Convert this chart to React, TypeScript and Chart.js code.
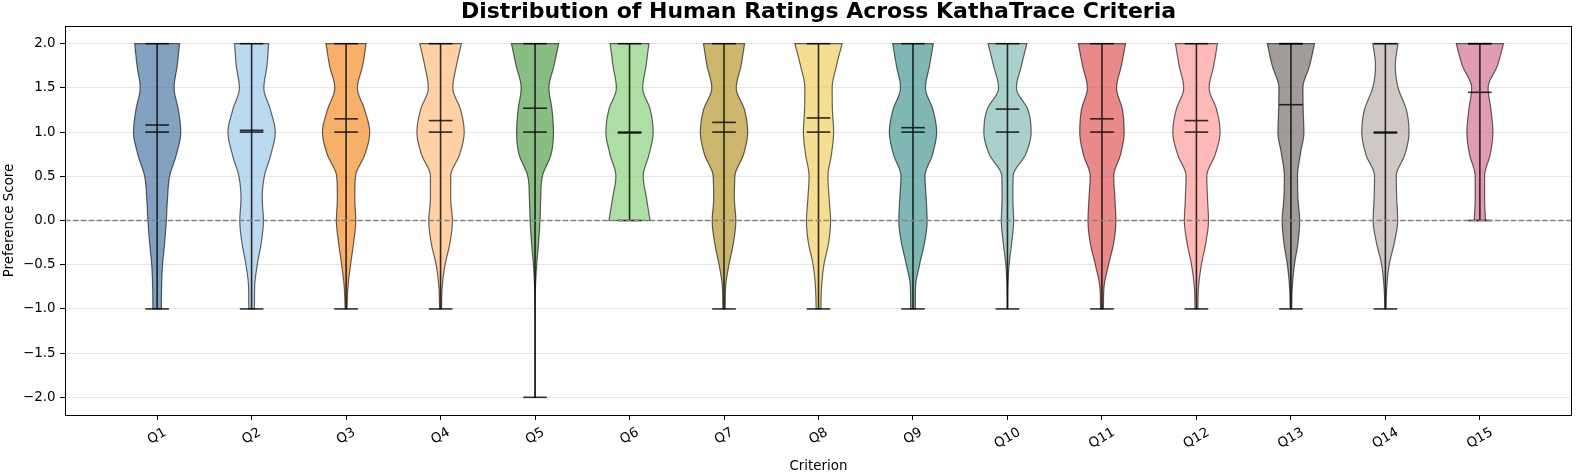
import { useEffect, useRef } from 'react';
import { Chart, registerables } from 'chart.js';

Chart.register(...registerables);

// Criteria shown along the x axis (positions 1..15)
const criteria = ['Q1', 'Q2', 'Q3', 'Q4', 'Q5', 'Q6', 'Q7', 'Q8', 'Q9', 'Q10', 'Q11', 'Q12', 'Q13', 'Q14', 'Q15'];

// Score levels at which each violin's relative density is listed (top to bottom)
const levels = [2, 1.75, 1.5, 1.25, 1, 0.75, 0.5, 0.25, 0, -0.25, -0.5, -0.75, -1, -1.25, -1.5, -1.75, -2];

// Relative density (1 = widest point of that violin), one row per criterion, following `levels`
const densityQ1 = [0.95, 0.85, 0.72, 0.9, 1.0, 0.82, 0.53, 0.44, 0.39, 0.32, 0.23, 0.19, 0.18];
const densityQ2 = [0.72, 0.65, 0.52, 0.8, 1.0, 0.82, 0.54, 0.45, 0.5, 0.41, 0.24, 0.13, 0.12];
const densityQ3 = [0.85, 0.7, 0.48, 0.79, 1.0, 0.8, 0.4, 0.37, 0.41, 0.32, 0.19, 0.08, 0.04];
const densityQ4 = [0.88, 0.67, 0.52, 0.85, 1.0, 0.81, 0.43, 0.43, 0.5, 0.4, 0.19, 0.07, 0.04];
const densityQ5 = [1.0, 0.8, 0.59, 0.72, 0.78, 0.68, 0.31, 0.24, 0.21, 0.15, 0.07, 0.02, 0.006, 0.004, 0.004, 0.004, 0.004];
const densityQ6 = [0.82, 0.7, 0.56, 0.88, 1.0, 0.83, 0.58, 0.72, 0.87];
const densityQ7 = [0.87, 0.72, 0.52, 0.87, 1.0, 0.83, 0.46, 0.44, 0.5, 0.4, 0.21, 0.07, 0.05];
const densityQ8 = [1.0, 0.76, 0.58, 0.59, 0.64, 0.55, 0.4, 0.45, 0.51, 0.43, 0.23, 0.13, 0.1];
const densityQ9 = [0.86, 0.7, 0.53, 0.85, 1.0, 0.83, 0.51, 0.56, 0.6, 0.49, 0.28, 0.11, 0.1];
const densityQ10 = [0.82, 0.59, 0.38, 0.87, 1.0, 0.77, 0.24, 0.23, 0.26, 0.18, 0.07, 0.02, 0.01];
const densityQ11 = [1.0, 0.82, 0.62, 0.87, 0.94, 0.79, 0.5, 0.55, 0.59, 0.5, 0.28, 0.09, 0.06];
const densityQ12 = [0.89, 0.73, 0.54, 0.86, 1.0, 0.8, 0.44, 0.47, 0.51, 0.4, 0.21, 0.09, 0.06];
const densityQ13 = [1.0, 0.79, 0.51, 0.52, 0.55, 0.4, 0.28, 0.3, 0.37, 0.3, 0.15, 0.06, 0.03];
const densityQ14 = [0.53, 0.42, 0.54, 0.89, 1.0, 0.83, 0.46, 0.48, 0.52, 0.38, 0.16, 0.06, 0.02];
const densityQ15 = [1.0, 0.74, 0.35, 0.47, 0.55, 0.44, 0.2, 0.2, 0.24];

const densities = [
  densityQ1, densityQ2, densityQ3, densityQ4, densityQ5, densityQ6, densityQ7, densityQ8,
  densityQ9, densityQ10, densityQ11, densityQ12, densityQ13, densityQ14, densityQ15,
];

// Summary statistics per criterion
const means = [1.08, 1.02, 1.15, 1.13, 1.27, 0.99, 1.11, 1.16, 1.05, 1.26, 1.15, 1.13, 1.31, 0.99, 1.45];
const medians = [1, 1, 1, 1, 1, 1, 1, 1, 1, 1, 1, 1, 2, 1, 2];
const minima = [-1, -1, -1, -1, -2, 0, -1, -1, -1, -1, -1, -1, -1, -1, 0];
const maxima = [2, 2, 2, 2, 2, 2, 2, 2, 2, 2, 2, 2, 2, 2, 2];

// y axis ticks
const yTicks = [-2, -1.5, -1, -0.5, 0, 0.5, 1, 1.5, 2];

// Tableau 20 palette, one colour per criterion
const palette = [
  '#4E79A7', '#A0CBE8', '#F28E2B', '#FFBE7D', '#59A14F', '#8CD17D', '#B6992D', '#F1CE63',
  '#499894', '#86BCB6', '#E15759', '#FF9D9A', '#79706E', '#BAB0AC', '#D37295',
];

const TITLE = 'Distribution of Human Ratings Across KathaTrace Criteria';
const FONT = "'DejaVu Sans', 'Liberation Sans', sans-serif";
const BODY_ALPHA = 0.7;
const VIOLIN_WIDTH = 0.5; // in x units
const LINE_COLOR = 'rgba(0,0,0,0.8)';

function rgba(hex: string, a: number) {
  const n = parseInt(hex.slice(1), 16);
  return `rgba(${(n >> 16) & 255},${(n >> 8) & 255},${n & 255},${a})`;
}

// Monotone cubic (Fritsch-Carlson) interpolation through the listed densities
function monotone(xs: number[], ys: number[]) {
  const n = xs.length;
  const d: number[] = [];
  const m: number[] = new Array(n).fill(0);
  for (let i = 0; i < n - 1; i++) d.push((ys[i + 1] - ys[i]) / (xs[i + 1] - xs[i]));
  m[0] = d[0];
  m[n - 1] = d[n - 2];
  for (let i = 1; i < n - 1; i++) m[i] = d[i - 1] * d[i] <= 0 ? 0 : (d[i - 1] + d[i]) / 2;
  for (let i = 0; i < n - 1; i++) {
    if (d[i] === 0) {
      m[i] = 0;
      m[i + 1] = 0;
      continue;
    }
    const a = m[i] / d[i];
    const b = m[i + 1] / d[i];
    const s = a * a + b * b;
    if (s > 9) {
      const t = 3 / Math.sqrt(s);
      m[i] = t * a * d[i];
      m[i + 1] = t * b * d[i];
    }
  }
  return (x: number) => {
    let i = 0;
    while (i < n - 2 && x > xs[i + 1]) i++;
    const h = xs[i + 1] - xs[i];
    const t = Math.min(1, Math.max(0, (x - xs[i]) / h));
    const t2 = t * t;
    const t3 = t2 * t;
    return (
      (2 * t3 - 3 * t2 + 1) * ys[i] +
      (t3 - 2 * t2 + t) * h * m[i] +
      (-2 * t3 + 3 * t2) * ys[i + 1] +
      (t3 - t2) * h * m[i + 1]
    );
  };
}

const violinPlugin = {
  id: 'violinBodies',
  beforeDatasetsDraw(chart: any) {
    const { ctx, chartArea, scales } = chart;
    const xs = scales.x;
    const ys = scales.y;
    ctx.save();
    ctx.beginPath();
    ctx.rect(chartArea.left, chartArea.top, chartArea.right - chartArea.left, chartArea.bottom - chartArea.top);
    ctx.clip();

    criteria.forEach((_, i) => {
      const pos = i + 1;
      const row = densities[i];
      const lv: number[] = [];
      const dv: number[] = [];
      for (let k = row.length - 1; k >= 0; k--) {
        lv.push(levels[k]);
        dv.push(row[k]);
      }
      const f = monotone(lv, dv);
      const lo = minima[i];
      const hi = maxima[i];
      const steps = Math.ceil((hi - lo) / 0.005);
      const right: [number, number][] = [];
      const left: [number, number][] = [];
      for (let s = 0; s <= steps; s++) {
        const v = hi - ((hi - lo) * s) / steps;
        const w = Math.max(0, f(v)) * (VIOLIN_WIDTH / 2);
        const py = ys.getPixelForValue(v);
        right.push([xs.getPixelForValue(pos + w), py]);
        left.push([xs.getPixelForValue(pos - w), py]);
      }
      ctx.beginPath();
      ctx.moveTo(left[0][0], left[0][1]);
      right.forEach(([px, py]) => ctx.lineTo(px, py));
      for (let s = left.length - 1; s >= 0; s--) ctx.lineTo(left[s][0], left[s][1]);
      ctx.closePath();
      ctx.fillStyle = rgba(palette[i], BODY_ALPHA);
      ctx.fill();
      ctx.lineWidth = 1.2;
      ctx.strokeStyle = 'rgba(0,0,0,0.6)';
      ctx.stroke();
    });

    // vertical bars from minimum to maximum
    ctx.strokeStyle = LINE_COLOR;
    ctx.lineWidth = 1.6;
    criteria.forEach((_, i) => {
      const px = xs.getPixelForValue(i + 1);
      ctx.beginPath();
      ctx.moveTo(px, ys.getPixelForValue(maxima[i]));
      ctx.lineTo(px, ys.getPixelForValue(minima[i]));
      ctx.stroke();
    });
    ctx.restore();
  },
  afterDatasetsDraw(chart: any) {
    const { ctx, chartArea, scales } = chart;
    const py = scales.y.getPixelForValue(0);
    ctx.save();
    ctx.strokeStyle = '#858585';
    ctx.lineWidth = 1.5;
    ctx.setLineDash([5.5, 2.4]);
    ctx.beginPath();
    ctx.moveTo(chartArea.left, py);
    ctx.lineTo(chartArea.right, py);
    ctx.stroke();
    ctx.restore();
  },
  afterDraw(chart: any) {
    const { ctx, chartArea, scales } = chart;
    ctx.save();
    // axes frame
    ctx.strokeStyle = '#000';
    ctx.lineWidth = 1;
    ctx.setLineDash([]);
    const l = Math.round(chartArea.left) + 0.5;
    const t = Math.round(chartArea.top) + 0.5;
    const r = Math.round(chartArea.right) - 0.5;
    const b = Math.round(chartArea.bottom) + 0.5;
    ctx.strokeRect(l, t, r - l, b - t);

    // title
    const cx = (chartArea.left + chartArea.right) / 2;
    ctx.fillStyle = '#000';
    ctx.textAlign = 'center';
    ctx.textBaseline = 'alphabetic';
    ctx.font = `bold 22px ${FONT}`;
    ctx.fillText(TITLE, cx, 18);

    // rotated category labels, centred under each tick
    const size = 13.4;
    ctx.font = `${size}px ${FONT}`;
    ctx.textBaseline = 'middle';
    const ang = (30 * Math.PI) / 180;
    const top = chartArea.bottom + 9.7;
    criteria.forEach((label, i) => {
      const px = scales.x.getPixelForValue(i + 1);
      const w = ctx.measureText(label).width;
      const h = size * 1.16;
      const boxH = w * Math.sin(ang) + h * Math.cos(ang);
      ctx.save();
      ctx.translate(px, top + boxH / 2);
      ctx.rotate(-ang);
      ctx.fillText(label, 0, 0);
      ctx.restore();
    });

    // axis titles
    ctx.textBaseline = 'alphabetic';
    ctx.fillText('Criterion', cx, 469.5);
    ctx.save();
    ctx.translate(12.8, (chartArea.top + chartArea.bottom) / 2);
    ctx.rotate(-Math.PI / 2);
    ctx.fillText('Preference Score', 0, 0);
    ctx.restore();
    ctx.restore();
  },
};

function tickRadius(c: any) {
  const sx = c.chart.scales.x;
  return Math.abs(sx.getPixelForValue(VIOLIN_WIDTH / 4) - sx.getPixelForValue(0));
}

function markerSet(label: string, values: number[]) {
  return {
    label,
    data: values.map((v, i) => ({ x: i + 1, y: v })),
    pointStyle: 'line',
    radius: tickRadius,
    hoverRadius: tickRadius,
    borderColor: LINE_COLOR,
    backgroundColor: LINE_COLOR,
    borderWidth: 1.6,
    hoverBorderWidth: 1.6,
    showLine: false,
  };
}

export default function App() {
  const canvasRef = useRef<HTMLCanvasElement | null>(null);

  useEffect(() => {
    document.body.style.margin = '0';
    const canvas = canvasRef.current;
    if (!canvas) return;
    const chart = new Chart(canvas, {
      type: 'scatter',
      data: {
        datasets: [
          markerSet('Maximum', maxima),
          markerSet('Minimum', minima),
          markerSet('Median', medians),
          markerSet('Mean', means),
        ],
      },
      options: {
        animation: false,
        responsive: false,
        devicePixelRatio: 1,
        events: [],
        layout: { padding: { left: 0, right: 4, top: 26, bottom: 0 } },
        plugins: {
          legend: { display: false },
          tooltip: { enabled: false },
          title: { display: false },
        },
        scales: {
          x: {
            type: 'linear',
            min: 0.025,
            max: 15.975,
            afterBuildTicks: (s: any) => {
              s.ticks = criteria.map((_, i) => ({ value: i + 1 }));
            },
            afterFit: (s: any) => {
              s.height = 57;
            },
            ticks: { display: false },
            grid: { drawOnChartArea: false, drawTicks: true, tickLength: 5, tickColor: '#000', tickWidth: 1 },
            border: { display: false },
          },
          y: {
            type: 'linear',
            min: -2.2,
            max: 2.2,
            afterBuildTicks: (s: any) => {
              s.ticks = yTicks.map((v) => ({ value: v }));
            },
            afterFit: (s: any) => {
              s.width = 65;
            },
            ticks: {
              color: '#000',
              font: { family: FONT, size: 13.4 },
              padding: 4.5,
              callback: (v: any) => {
                const n = Number(v);
                return (n < 0 ? '\u2212' : '') + Math.abs(n).toFixed(1);
              },
            },
            grid: { color: '#e6e6e6', lineWidth: 1, drawTicks: true, tickLength: 5, tickColor: '#000', tickWidth: 1 },
            border: { display: false },
          },
        },
      },
      plugins: [violinPlugin],
    } as any);
    return () => chart.destroy();
  }, []);

  return <canvas ref={canvasRef} width={1576} height={472} style={{ display: 'block' }} />;
}
